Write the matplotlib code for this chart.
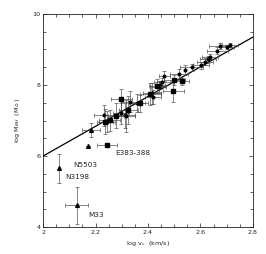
import numpy as np
import matplotlib
matplotlib.use("Agg")
import matplotlib.pyplot as plt
from matplotlib.ticker import MultipleLocator

# puntos circulares (galaxias masivas)
circ_x = [2.712, 2.702, 2.674, 2.664, 2.636, 2.630, 2.617, 2.602, 2.566, 2.541, 2.519,
          2.462, 2.452, 2.446, 2.440, 2.418, 2.414, 2.357, 2.331, 2.312, 2.297, 2.316, 2.245, 2.233]
circ_y = [9.12, 9.08, 9.10, 8.96, 8.80, 8.72, 8.66, 8.56, 8.50, 8.42, 8.31,
          8.25, 8.09, 8.00, 7.95, 7.67, 7.77, 7.50, 7.53, 7.15, 7.20, 7.13, 6.97, 7.15]
circ_xe = [0.03, 0.025, 0.04, 0.04, 0.03, 0.03, 0.03, 0.03, 0.045, 0.0, 0.035,
           0.02, 0.03, 0.02, 0.03, 0.03, 0.035, 0.03, 0.035, 0.04, 0.03, 0.035, 0.03, 0.04]
circ_ye = [0.06, 0.06, 0.08, 0.1, 0.08, 0.1, 0.1, 0.1, 0.1, 0.15, 0.15,
           0.15, 0.12, 0.1, 0.15, 0.2, 0.3, 0.25, 0.3, 0.35, 0.3, 0.45, 0.3, 0.3]

# puntos cuadrados
sq_x = [2.528, 2.500, 2.497, 2.433, 2.408, 2.370, 2.325, 2.297, 2.278, 2.255, 2.236]
sq_y = [8.11, 8.14, 7.82, 7.97, 7.75, 7.48, 7.30, 7.60, 7.13, 7.01, 6.97]
sq_xe = [0.03, 0.04, 0.04, 0.03, 0.04, 0.03, 0.035, 0.04, 0.03, 0.04, 0.03]
sq_ye = [0.1, 0.15, 0.3, 0.2, 0.3, 0.25, 0.4, 0.3, 0.35, 0.3, 0.35]

# triangulos (galaxias pequeñas)
tri_x = [2.182, 2.173, 2.062, 2.128]
tri_y = [6.73, 6.28, 5.65, 4.62]
tri_xe = [0.035, 0.0, 0.0, 0.044]
tri_ye = [0.2, 0.0, 0.42, 0.52]

# punto E383-388
e_x = [2.243]
e_y = [6.31]
e_xe = [0.038]

# ajuste lineal
fit_x = [2.0, 2.8]
fit_y = [6.0, 9.35]

etiquetas = ["E383-388", "N5503", "N3198", "M33"]
etq_x = [2.274, 2.114, 2.084, 2.171]
etq_y = [6.08, 5.76, 5.41, 4.34]

xticks = [2.0, 2.2, 2.4, 2.6, 2.8]
xtick_labels = ["2", "2.2", "2.4", "2.6", "2.8"]
yticks = [4, 6, 8, 10]

fig = plt.figure(figsize=(2.66, 2.54), dpi=100)
ax = fig.add_axes([0.162, 0.106, 0.789, 0.839])

col = "#222222"
fs = 4.6
ebk = dict(fmt="none", ecolor="#444444", elinewidth=0.45, capsize=1.2, capthick=0.45)

ax.plot(fit_x, fit_y, color="black", lw=0.9)

ax.errorbar(circ_x, circ_y, xerr=circ_xe, yerr=circ_ye, **ebk)
ax.plot(circ_x, circ_y, "o", color="black", ms=1.9)
ax.errorbar(sq_x, sq_y, xerr=sq_xe, yerr=sq_ye, **ebk)
ax.plot(sq_x, sq_y, "s", color="black", ms=2.6)
ax.errorbar(tri_x, tri_y, xerr=tri_xe, yerr=tri_ye, **ebk)
ax.plot(tri_x, tri_y, "^", color="black", ms=2.7)
ax.errorbar(e_x, e_y, xerr=e_xe, **ebk)
ax.plot(e_x, e_y, "s", color="black", ms=2.5)

for t, x, y in zip(etiquetas, etq_x, etq_y):
    ax.text(x, y, t, fontsize=fs + 0.6, color=col, ha="left", va="center")

ax.set_xlim(2.0, 2.8)
ax.set_ylim(4, 10)
ax.set_xticks(xticks)
ax.set_xticklabels(xtick_labels)
ax.set_yticks(yticks)
ax.xaxis.set_minor_locator(MultipleLocator(0.05))
ax.yaxis.set_minor_locator(MultipleLocator(0.5))
ax.tick_params(which="both", direction="in", top=True, right=True,
               labelsize=fs, colors=col, width=0.5, pad=2)
ax.tick_params(which="major", length=3)
ax.tick_params(which="minor", length=2)
for s in ax.spines.values():
    s.set_linewidth(0.6)
    s.set_color(col)

ax.set_xlabel("log v$_c$  (km/s)", fontsize=fs, color=col, labelpad=3)
ax.set_ylabel("log M$_{BH}$  (M$_\\odot$)", fontsize=fs, color=col, labelpad=7)

fig.savefig("out.png", dpi=100)
